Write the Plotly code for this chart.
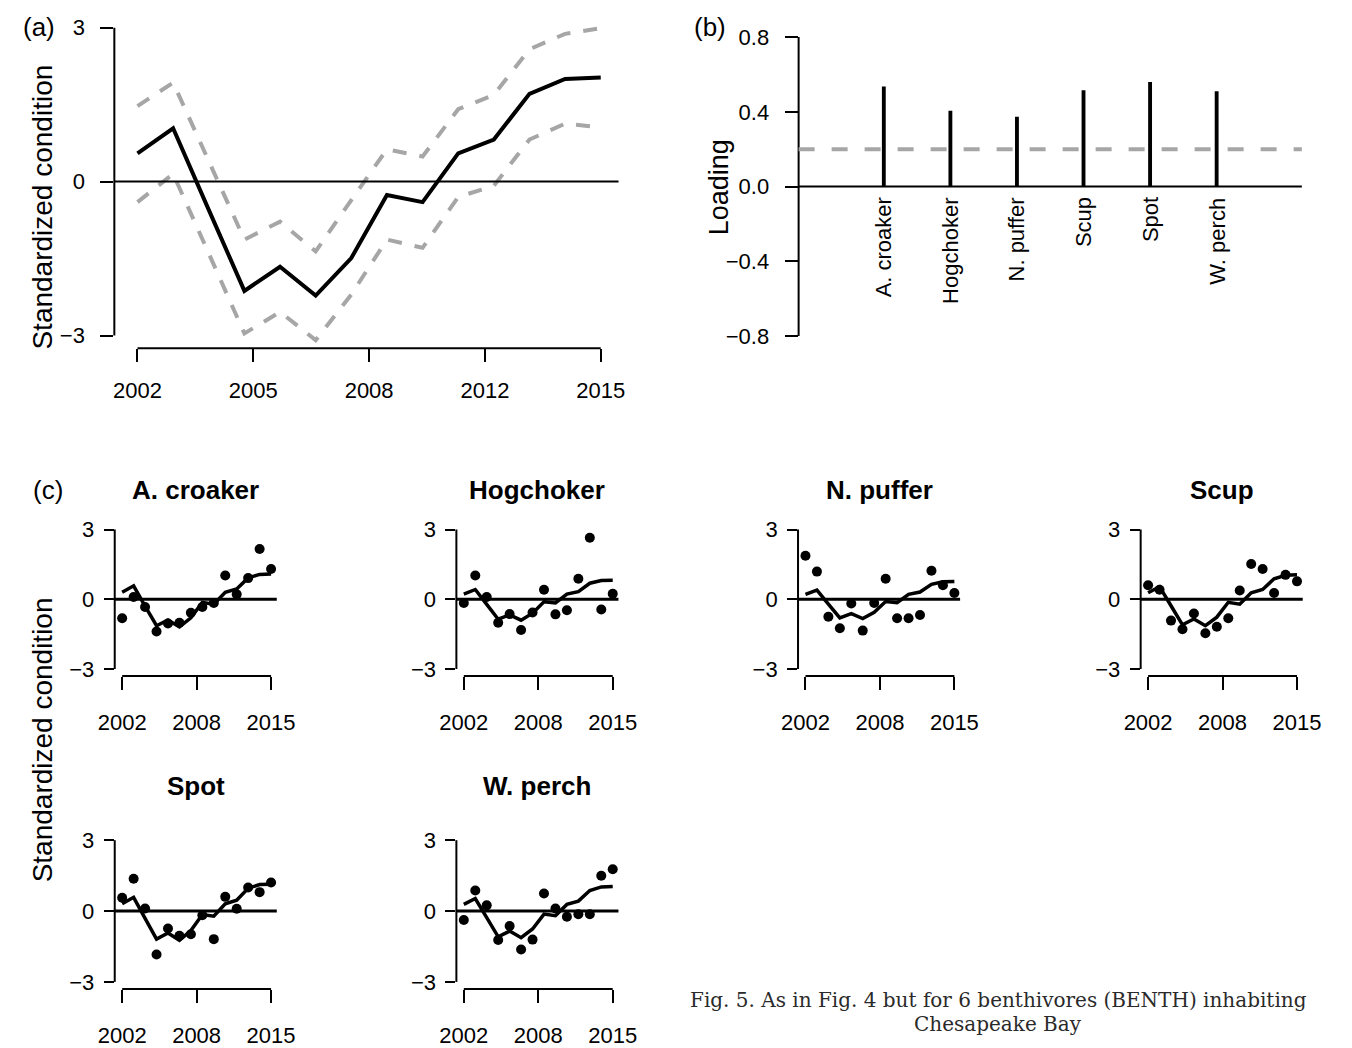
import plotly.graph_objects as go

W, H = 1352, 1048
SANS = "Liberation Sans, Arial, sans-serif"
SERIF = "DejaVu Serif, serif"
GREY = "#a6a6a6"

years = list(range(2002, 2016))

# (a) common trend and its confidence bounds
trend = [0.55, 1.04, -0.55, -2.13, -1.66, -2.22, -1.49, -0.26, -0.40, 0.55, 0.82, 1.71, 2.00, 2.03]
trend_upper = [1.47, 1.93, 0.40, -1.13, -0.78, -1.36, -0.36, 0.63, 0.49, 1.41, 1.69, 2.58, 2.88, 2.99]
trend_lower = [-0.40, 0.15, -1.40, -2.96, -2.54, -3.09, -2.20, -1.13, -1.29, -0.30, -0.08, 0.82, 1.13, 1.06]

# (b) loadings on the common trend
species = ["A. croaker", "Hogchoker", "N. puffer", "Scup", "Spot", "W. perch"]
loadings = [0.536, 0.406, 0.374, 0.515, 0.559, 0.510]
loading_cutoff = 0.2

# (c) observed standardized condition (points) and fitted values (lines)
croaker_obs = [-0.82, 0.10, -0.33, -1.39, -1.04, -1.01, -0.58, -0.33, -0.16, 1.02, 0.21, 0.91, 2.16, 1.30]
croaker_fit = [0.30, 0.58, -0.30, -1.14, -0.89, -1.19, -0.80, -0.14, -0.21, 0.30, 0.44, 0.92, 1.07, 1.09]
hogchoker_obs = [-0.16, 1.02, 0.10, -1.01, -0.64, -1.32, -0.57, 0.41, -0.65, -0.47, 0.88, 2.65, -0.44, 0.24]
hogchoker_fit = [0.22, 0.42, -0.22, -0.86, -0.67, -0.90, -0.60, -0.11, -0.16, 0.22, 0.33, 0.69, 0.81, 0.82]
puffer_obs = [1.87, 1.19, -0.75, -1.25, -0.18, -1.35, -0.16, 0.88, -0.82, -0.82, -0.68, 1.23, 0.60, 0.27]
puffer_fit = [0.21, 0.39, -0.21, -0.80, -0.62, -0.83, -0.56, -0.10, -0.15, 0.21, 0.31, 0.64, 0.75, 0.76]
scup_obs = [0.60, 0.41, -0.92, -1.29, -0.61, -1.46, -1.18, -0.82, 0.38, 1.52, 1.30, 0.27, 1.05, 0.77]
scup_fit = [0.28, 0.54, -0.28, -1.10, -0.85, -1.14, -0.77, -0.13, -0.21, 0.28, 0.42, 0.88, 1.03, 1.05]
spot_obs = [0.56, 1.37, 0.11, -1.84, -0.74, -1.05, -0.98, -0.18, -1.19, 0.60, 0.10, 1.00, 0.80, 1.21]
spot_fit = [0.31, 0.58, -0.31, -1.19, -0.93, -1.24, -0.83, -0.15, -0.22, 0.31, 0.46, 0.96, 1.12, 1.13]
perch_obs = [-0.38, 0.87, 0.24, -1.23, -0.63, -1.63, -1.21, 0.74, 0.11, -0.24, -0.14, -0.14, 1.49, 1.77]
perch_fit = [0.28, 0.53, -0.28, -1.09, -0.85, -1.13, -0.76, -0.13, -0.20, 0.28, 0.42, 0.87, 1.02, 1.04]

big_ticks = [2002, 2005.25, 2008.5, 2011.75, 2015]
big_ticktext = ["2002", "2005", "2008", "2012", "2015"]
small_ticks = [2002, 2008.5, 2015]
small_ticktext = ["2002", "2008", "2015"]
year_range = [2001.35, 2015.5]

caption_lines = ["Fig. 5. As in Fig. 4 but for 6 benthivores (BENTH) inhabiting", "Chesapeake Bay"]


def xdom(left, right):
    return [left / W, right / W]


def ydom(top, bottom):
    return [1 - bottom / H, 1 - top / H]


def px(x):
    return x / W


def py(y):
    return 1 - y / H


fig = go.Figure()
layout = dict(
    width=W, height=H, margin=dict(l=0, r=0, t=0, b=0),
    paper_bgcolor="white", plot_bgcolor="white", showlegend=False,
    font=dict(family=SANS, color="black"),
)
shapes = []
annotations = []


def year_axes(n, xd, yd, yrange, ticks, ticktext, xticklen, yticklen, fsize, xstand, ystand):
    sx = "" if n == 1 else str(n)
    layout["xaxis" + sx] = dict(
        domain=xd, range=year_range, anchor="y" + sx, showgrid=False, zeroline=False,
        showline=False, ticks="outside", ticklen=xticklen, tickwidth=2, tickcolor="black",
        tickvals=ticks, ticktext=ticktext, tickfont=dict(size=fsize, family=SANS),
        ticklabelstandoff=xstand, fixedrange=True,
    )
    layout["yaxis" + sx] = dict(
        domain=yd, range=yrange, anchor="x" + sx, showgrid=False, zeroline=False,
        showline=False, ticks="outside", ticklen=yticklen, tickwidth=2, tickcolor="black",
        tickvals=[-3, 0, 3], ticktext=["\u22123", "0", "3"], tickfont=dict(size=fsize, family=SANS),
        ticklabelstandoff=ystand, fixedrange=True,
    )
    xr, yr = "x" + sx, "y" + sx
    # R-style axis spines running from first to last tick
    shapes.append(dict(type="line", xref=xr + " domain", yref=yr, x0=0, x1=0, y0=-3, y1=3,
                       line=dict(color="black", width=2)))
    shapes.append(dict(type="line", xref=xr, yref=yr + " domain", x0=ticks[0], x1=ticks[-1], y0=0, y1=0,
                       line=dict(color="black", width=2)))
    return xr, yr


# ---- (a) common trend ----
xa, ya = year_axes(1, xdom(100, 618), ydom(10, 348), [-3.25, 3.25], big_ticks, big_ticktext,
                   13, 13, 22, 9, 11)
shapes.append(dict(type="line", xref=xa + " domain", yref=ya, x0=0, x1=1, y0=0, y1=0,
                   line=dict(color="black", width=2)))
for bound in (trend_upper, trend_lower):
    fig.add_trace(go.Scatter(x=years, y=bound, mode="lines", xaxis=xa, yaxis=ya,
                             line=dict(color=GREY, width=4, dash="14px,13px"), hoverinfo="skip"))
fig.add_trace(go.Scatter(x=years, y=trend, mode="lines", xaxis=xa, yaxis=ya,
                         line=dict(color="black", width=4), hoverinfo="skip"))

# ---- (b) loadings ----
pos = list(range(1, len(species) + 1))
layout["xaxis2"] = dict(domain=xdom(803, 1320), range=[-0.28, 7.28], anchor="y2", visible=False,
                        fixedrange=True)
layout["yaxis2"] = dict(
    domain=ydom(20.4, 347.6), range=[-0.864, 0.864], anchor="x2", showgrid=False, zeroline=False,
    showline=False, ticks="outside", ticklen=13, tickwidth=2, tickcolor="black",
    tickvals=[-0.8, -0.4, 0, 0.4, 0.8], ticktext=["\u22120.8", "\u22120.4", "0.0", "0.4", "0.8"],
    tickfont=dict(size=22, family=SANS), ticklabelstandoff=11, fixedrange=True,
)
shapes.append(dict(type="line", xref="x2 domain", yref="y2", x0=0, x1=0, y0=-0.8, y1=0.8,
                   line=dict(color="black", width=2)))
shapes.append(dict(type="line", xref="x2 domain", yref="y2", x0=0, x1=1, y0=0, y1=0,
                   line=dict(color="black", width=2)))
shapes.append(dict(type="line", xref="x2 domain", yref="y2", x0=0, x1=1,
                   y0=loading_cutoff, y1=loading_cutoff,
                   line=dict(color=GREY, width=4, dash="16px,17px")))
fig.add_trace(go.Bar(x=pos, y=loadings, width=0.058, xaxis="x2", yaxis="y2",
                     marker=dict(color="black", line=dict(width=0)), hoverinfo="skip"))
for p, name in zip(pos, species):
    annotations.append(dict(x=p, y=0, xref="x2", yref="y2", text=name, textangle=-90,
                            showarrow=False, xanchor="center", yanchor="top", yshift=-9,
                            font=dict(size=22, family=SANS)))

# ---- (c) species panels ----
panels = [
    ("A. croaker", croaker_obs, croaker_fit),
    ("Hogchoker", hogchoker_obs, hogchoker_fit),
    ("N. puffer", puffer_obs, puffer_fit),
    ("Scup", scup_obs, scup_fit),
    ("Spot", spot_obs, spot_fit),
    ("W. perch", perch_obs, perch_fit),
]
col_left = [100.4, 451.4, 802.4, 1154.4]
col_w = 166.5
rows = [(524.6, 680.0, 492), (839.3, 997.3, 792)]

for i, (name, obs, fit) in enumerate(panels):
    r, c = divmod(i, 4)
    top, bottom, title_y = rows[r]
    left = col_left[c]
    xr, yr = year_axes(3 + i, xdom(left, left + col_w), ydom(top, bottom), [-3.3, 3.3],
                       small_ticks, small_ticktext, 13, 10, 22, 14, 5)
    shapes.append(dict(type="line", xref=xr + " domain", yref=yr, x0=0, x1=1, y0=0, y1=0,
                       line=dict(color="black", width=3)))
    fig.add_trace(go.Scatter(x=years, y=fit, mode="lines", xaxis=xr, yaxis=yr,
                             line=dict(color="black", width=3.5), hoverinfo="skip"))
    fig.add_trace(go.Scatter(x=years, y=obs, mode="markers", xaxis=xr, yaxis=yr,
                             marker=dict(color="black", size=10), hoverinfo="skip"))
    annotations.append(dict(x=px(left + col_w / 2), y=py(title_y), xref="paper", yref="paper",
                            text="<b>%s</b>" % name, showarrow=False, xanchor="center",
                            yanchor="middle", font=dict(size=26, family=SANS)))

# ---- panel letters, axis titles, caption ----
for txt, x, y in [("(a)", 23, 22), ("(b)", 712, 22), ("(c)", 32, 492)]:
    annotations.append(dict(x=px(x), y=py(y), xref="paper", yref="paper", text=txt,
                            showarrow=False, xanchor="center", yanchor="middle",
                            font=dict(size=26, family=SANS)))
for txt, x, y, size in [("Standardized condition", 26, 205, 28),
                        ("Standardized condition", 26, 745, 28),
                        ("Loading", 721, 185, 27)]:
    annotations.append(dict(x=px(x), y=py(y), xref="paper", yref="paper", text=txt,
                            textangle=-90, showarrow=False, xanchor="center", yanchor="middle",
                            font=dict(size=size, family=SANS)))
for txt, y in zip(caption_lines, [1008, 1033]):
    annotations.append(dict(
        x=px(1008), y=py(y), xref="paper", yref="paper", text=txt,
        showarrow=False, xanchor="center", yanchor="middle",
        font=dict(size=20, family=SERIF, color="#2a2a2a"),
    ))

layout["shapes"] = shapes
layout["annotations"] = annotations
fig.update_layout(**layout)
# keep the figure flush with the page edges
fig.write_html("out.html",
               post_script="document.body.style.margin='0';document.body.style.overflow='hidden';")
